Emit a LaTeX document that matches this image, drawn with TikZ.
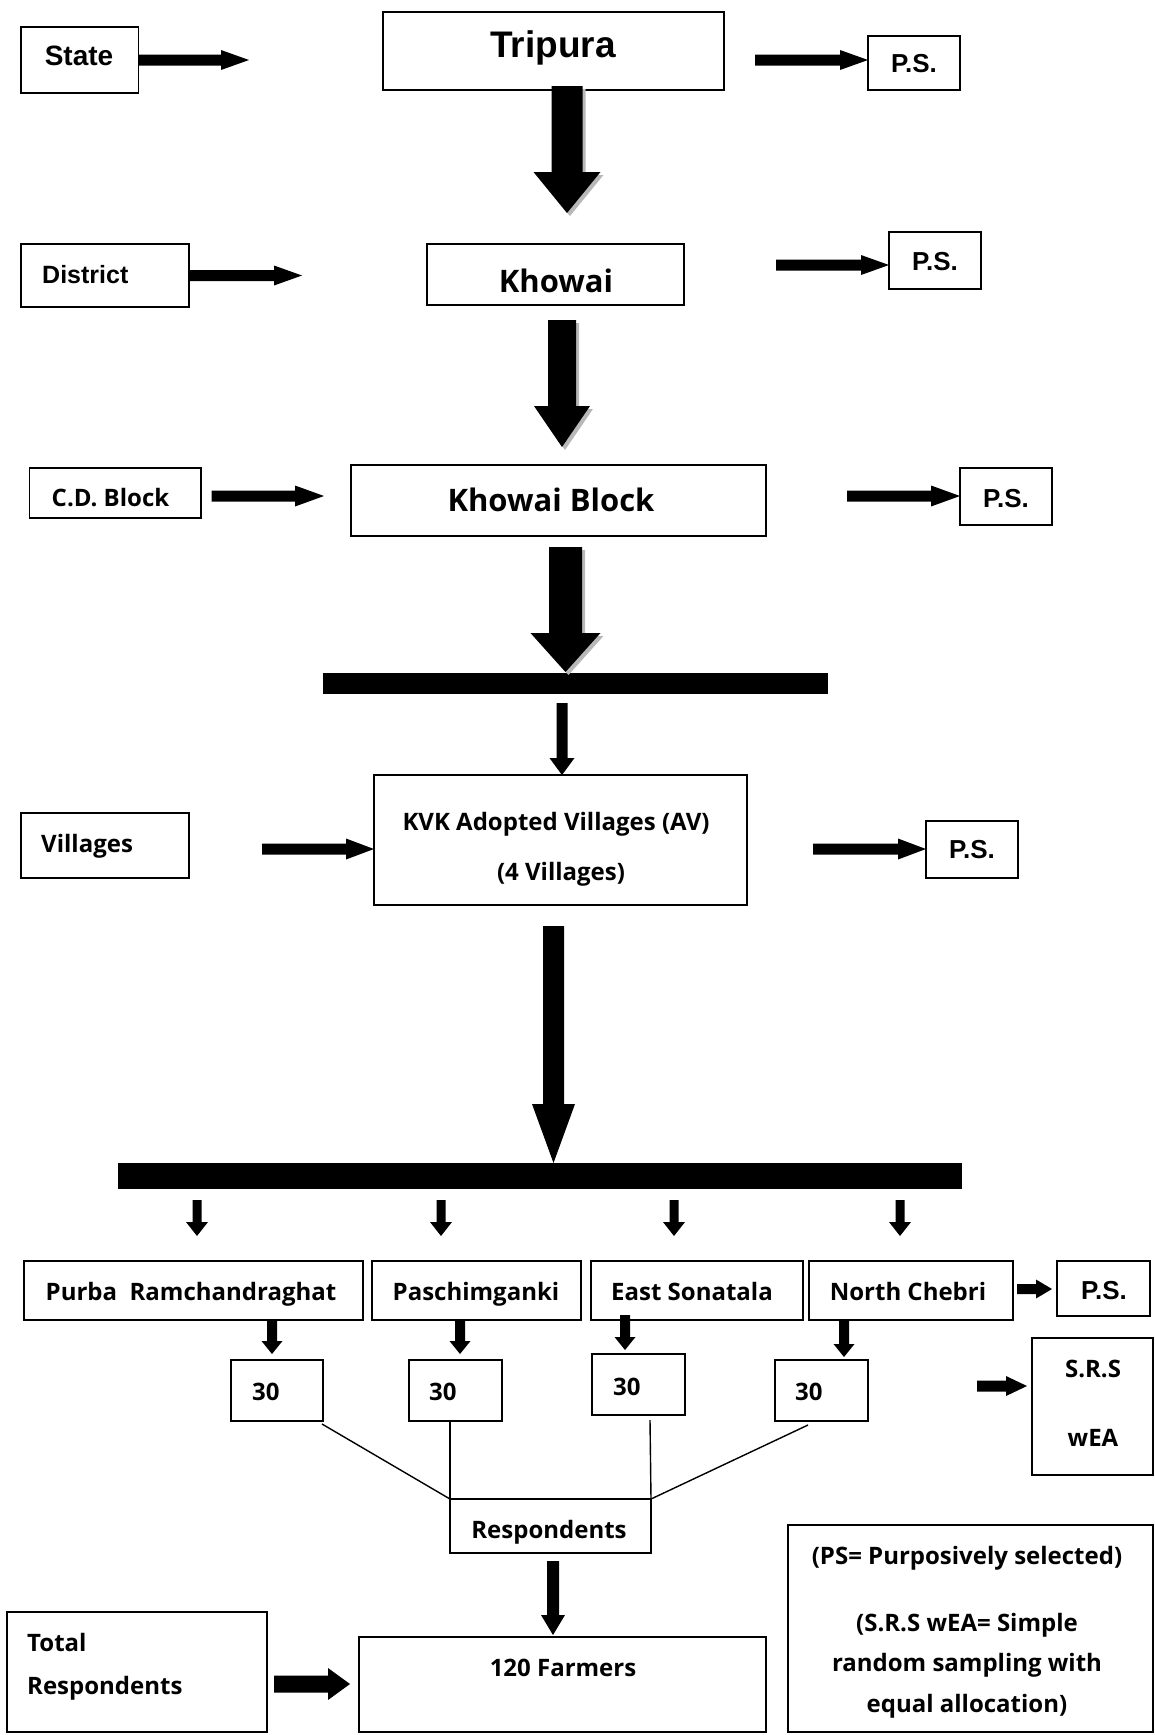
\documentclass[tikz,border=0pt]{standalone}
\usepackage{fontspec}
\setmainfont{Open Sans}
\newfontfamily\arialf{Liberation Sans}
\usetikzlibrary{calc,fit}
\begin{document}
\begin{tikzpicture}[x=1pt,y=-1pt,
  box/.style={draw=black, line width=1.8pt, inner sep=0pt, outer sep=0pt},
  bar/.style={fill=black, draw=none, inner sep=0pt, outer sep=0pt},
  osA/.style={font=\bfseries\fontsize{24}{28}\selectfont, inner sep=0pt, anchor=base},
  osL/.style={font=\bfseries\fontsize{24}{28}\selectfont, inner sep=0pt, anchor=base west},
  osB/.style={font=\bfseries\fontsize{31}{36}\selectfont, inner sep=0pt, anchor=base},
  arT/.style={font=\arialf\bfseries\fontsize{#1}{#1}\selectfont, inner sep=0pt, anchor=base},
  arL/.style={font=\arialf\bfseries\fontsize{#1}{#1}\selectfont, inner sep=0pt, anchor=base west},
  thinl/.style={draw=black, line width=1.4pt},
  shadowc/.style={fill=black!28},
  harrow/.style n args={3}{to path={let \p1=(\tikztostart), \p2=(\tikztotarget) in
    (\x1,\y1+#1/2) -- (\x2-#3,\y1+#1/2) -- (\x2-#3,\y1+#2/2) -- (\x2,\y1) --
    (\x2-#3,\y1-#2/2) -- (\x2-#3,\y1-#1/2) -- (\x1,\y1-#1/2) -- cycle}},
  varrow/.style n args={3}{to path={let \p1=(\tikztostart), \p2=(\tikztotarget) in
    (\x1-#1/2,\y1) -- (\x1-#1/2,\y2+#3) -- (\x1-#2/2,\y2+#3) -- (\x1,\y2) --
    (\x1+#2/2,\y2+#3) -- (\x1+#1/2,\y2+#3) -- (\x1+#1/2,\y1) -- cycle}},
]
\useasboundingbox (0,0) rectangle (1155,1735);
\fill[white] (0,0) rectangle (1155,1735);

% ---------- boxes ----------
\node[box, fit={(20.6,27) (138.5,93)}] (State) {};
\node[box, fit={(383,12) (724,90)}] (Tripura) {};
\node[box, fit={(868,36) (960,90)}] (PS1) {};
\node[box, fit={(21,244) (189,307)}] (District) {};
\node[box, fit={(427,244) (684,305)}] (Khowai) {};
\node[box, fit={(889,232) (981,289)}] (PS2) {};
\node[box, fit={(29.5,468) (201,518)}] (CDB) {};
\node[box, fit={(351,465) (766,536)}] (KBlock) {};
\node[box, fit={(960,468) (1052,525)}] (PS3) {};
\node[bar, fit={(323,673) (828,694)}] (Bar1) {};
\node[box, fit={(20.6,813) (189,878)}] (Villages) {};
\node[box, fit={(374,775) (747,905)}] (KVK) {};
\node[box, fit={(926,821) (1018,878)}] (PS4) {};
\node[bar, fit={(118,1163) (962,1189)}] (Bar2) {};
\node[box, fit={(24,1261) (363,1320)}] (Purba) {};
\node[box, fit={(372,1261) (581,1320)}] (Pasch) {};
\node[box, fit={(591,1261) (803,1320)}] (East) {};
\node[box, fit={(809,1261) (1013,1320)}] (North) {};
\node[box, fit={(1057,1261) (1150,1316)}] (PS5) {};
\node[box, fit={(231,1360) (323,1421)}] (NA) {};
\node[box, fit={(409,1360) (502,1421)}] (NB) {};
\node[box, fit={(592,1354) (685,1415)}] (NC) {};
\node[box, fit={(775,1360) (868,1421)}] (ND) {};
\node[box, fit={(1032,1338) (1153,1475)}] (SRS) {};
\node[box, fit={(450,1499) (651,1553)}] (Resp) {};
\node[box, fit={(7,1612) (267,1732)}] (Total) {};
\node[box, fit={(359,1637) (766,1732)}] (Farmers) {};
\node[box, fit={(788,1525) (1153,1732)}] (Legend) {};

% ---------- texts ----------
\node[arT=28] (StateT) at (79,65.5) {State};
\node[arT=37] (TripuraT) at (553,57) {Tripura};
\node[arT=26] (PS1T) at (914,72) {P.S.};
\node[arL=25] (DistrictT) at (42,283) {District};
\node[osB] (KhowaiT) at (556,292) {Khowai};
\node[arT=26] (PS2T) at (935,270) {P.S.};
\node[osA] (CDBT) at (110.5,506) {C.D. Block};
\node[osB] (KBlockT) at (551,511) {Khowai Block};
\node[arT=26] (PS3T) at (1006,507) {P.S.};
\node[osL] (VillagesT) at (41,852) {Villages};
\node[osA] (KVKT1) at (556,830) {KVK Adopted Villages (AV)};
\node[osA] (KVKT2) at (561,880) {(4 Villages)};
\node[arT=26] (PS4T) at (972,858) {P.S.};
\node[osA] (PurbaT) at (191,1300) {Purba\ \ Ramchandraghat};
\node[osA] (PaschT) at (476,1300) {Paschimganki};
\node[osA] (EastT) at (692,1300) {East Sonatala};
\node[osA] (NorthT) at (908,1300) {North Chebri};
\node[arT=26] (PS5T) at (1104,1299) {P.S.};
\node[osL] (NAT) at (252,1400) {30};
\node[osL] (NBT) at (429,1400) {30};
\node[osL] (NCT) at (613,1395) {30};
\node[osL] (NDT) at (795,1400) {30};
\node[osA] (SRST1) at (1093,1377) {S.R.S};
\node[osA] (SRST2) at (1093,1446) {wEA};
\node[osA] (RespT) at (549,1538) {Respondents};
\node[osL] (TotalT1) at (27,1651) {Total};
\node[osL] (TotalT2) at (27,1694) {Respondents};
\node[osA] (FarmersT) at (563,1676) {120 Farmers};
\node[osA] (LegT1) at (967,1564) {(PS= Purposively selected)};
\node[osA] (LegT2) at (967,1631) {(S.R.S wEA= Simple};
\node[osA] (LegT3) at (967,1671) {random sampling with};
\node[osA] (LegT4) at (967,1712) {equal allocation)};

% ---------- arrow end points ----------
\coordinate (aS) at (249,60);
\coordinate (p1s) at (755,60);
\coordinate (aD) at (302,276);
\coordinate (p2s) at (776,265);
\coordinate (c1s) at (211.5,496);
\coordinate (c1e) at (324,496);
\coordinate (p3s) at (847,496);
\coordinate (v1s) at (262,849);
\coordinate (p4s) at (813,849);
\coordinate (p5s) at (1017,1289);
\coordinate (p5e) at (1052,1289);
\coordinate (s1s) at (977,1386);
\coordinate (s1e) at (1027,1386);
\coordinate (t1s) at (274,1684);
\coordinate (t1e) at (350,1684);

\coordinate (b1s) at (567,86);   \coordinate (b1e) at (567,213);
\coordinate (b1ss) at (570,89);  \coordinate (b1se) at (570,216);
\coordinate (b2s) at (562,320);  \coordinate (b2e) at (562,447);
\coordinate (b2ss) at (565,323); \coordinate (b2se) at (565,450);
\coordinate (b3s) at (565.5,547);  \coordinate (b3e) at (565.5,672);
\coordinate (b3ss) at (568.5,550); \coordinate (b3se) at (568.5,675);
\coordinate (b4s) at (562,703);
\coordinate (b5s) at (553.5,926);

\coordinate (d1s) at (197,1200); \coordinate (d1e) at (197,1236);
\coordinate (d2s) at (441,1200); \coordinate (d2e) at (441,1236);
\coordinate (d3s) at (674,1200); \coordinate (d3e) at (674,1236);
\coordinate (d4s) at (900,1200); \coordinate (d4e) at (900,1236);

\coordinate (e1s) at (272,1320); \coordinate (e1e) at (272,1354);
\coordinate (e2s) at (460,1320); \coordinate (e2e) at (460,1354);
\coordinate (e3s) at (625,1315); \coordinate (e3e) at (625,1350);
\coordinate (e4s) at (844,1320); \coordinate (e4e) at (844,1357);

\coordinate (r1s) at (553,1561); \coordinate (r1e) at (553,1635);

% ---------- horizontal block arrows ----------
\fill (State.east) to[harrow={11pt}{20pt}{28pt}] (aS);
\fill (p1s) to[harrow={11pt}{20pt}{28pt}] (PS1.west);
\fill (District.east) to[harrow={11pt}{20pt}{28pt}] (aD);
\fill (p2s) to[harrow={11pt}{20pt}{28pt}] (PS2.west);
\fill (c1s) to[harrow={11pt}{21pt}{29pt}] (c1e);
\fill (p3s) to[harrow={11pt}{21pt}{29pt}] (PS3.west);
\fill (v1s) to[harrow={11pt}{21pt}{28pt}] (KVK.west);
\fill (p4s) to[harrow={11pt}{21pt}{28pt}] (PS4.west);
\fill (p5s) to[harrow={10pt}{19pt}{16pt}] (p5e);
\fill (s1s) to[harrow={11pt}{20pt}{21pt}] (s1e);
\fill (t1s) to[harrow={17pt}{32pt}{22pt}] (t1e);

% ---------- vertical block arrows ----------
\fill[shadowc] (b1ss) to[varrow={31pt}{67pt}{41pt}] (b1se);
\fill (b1s) to[varrow={31pt}{67pt}{41pt}] (b1e);
\fill[shadowc] (b2ss) to[varrow={28pt}{56pt}{41pt}] (b2se);
\fill (b2s) to[varrow={28pt}{56pt}{41pt}] (b2e);
\fill[shadowc] (b3ss) to[varrow={33pt}{70pt}{39pt}] (b3se);
\fill (b3s) to[varrow={33pt}{70pt}{39pt}] (b3e);
\fill (b4s) to[varrow={11pt}{25pt}{17pt}] (KVK.north);
\fill (b5s) to[varrow={21pt}{43pt}{59pt}] (Bar2.north);

\fill (d1s) to[varrow={9pt}{22pt}{14pt}] (d1e);
\fill (d2s) to[varrow={9pt}{22pt}{14pt}] (d2e);
\fill (d3s) to[varrow={9pt}{22pt}{14pt}] (d3e);
\fill (d4s) to[varrow={9pt}{22pt}{14pt}] (d4e);

\fill (e1s) to[varrow={10pt}{21pt}{13pt}] (e1e);
\fill (e2s) to[varrow={10pt}{21pt}{13pt}] (e2e);
\fill (e3s) to[varrow={10pt}{21pt}{13pt}] (e3e);
\fill (e4s) to[varrow={10pt}{21pt}{13pt}] (e4e);

\fill (r1s) to[varrow={12pt}{24pt}{20pt}] (r1e);

% ---------- thin connector lines ----------
\coordinate (la) at (322,1424);
\coordinate (lb) at (450,1421);
\coordinate (lc) at (650,1420);
\coordinate (ld) at (808,1425);
\draw[thinl] (la) -- (Resp.north west);
\draw[thinl] (lb) -- (Resp.north west);
\draw[thinl] (lc) -- (Resp.north east);
\draw[thinl] (ld) -- (Resp.north east);
\end{tikzpicture}
\end{document}
